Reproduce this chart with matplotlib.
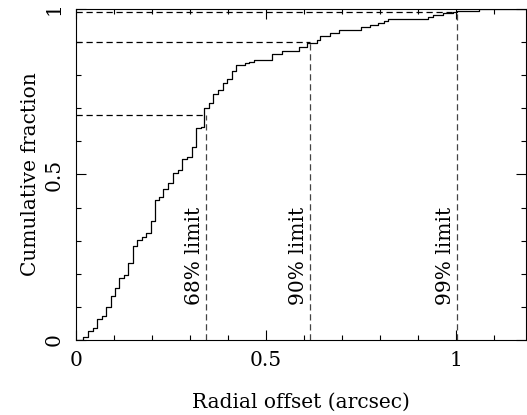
import numpy as np
import matplotlib
matplotlib.use('Agg')
import matplotlib.pyplot as plt
from matplotlib.ticker import MultipleLocator

# cumulative distribution of radial offsets
offset_steps = [0.019, 0.032, 0.044, 0.056, 0.068, 0.079, 0.091, 0.103, 0.114, 0.126,
                0.138, 0.151, 0.161, 0.173, 0.184, 0.197, 0.208, 0.219, 0.230, 0.243,
                0.256, 0.269, 0.280, 0.292, 0.305, 0.316, 0.328, 0.338, 0.351, 0.362,
                0.375, 0.386, 0.398, 0.410, 0.421, 0.445, 0.456, 0.469, 0.515, 0.542,
                0.588, 0.607, 0.634, 0.643, 0.669, 0.693, 0.751, 0.774, 0.796, 0.811,
                0.822, 0.928, 0.941, 0.967, 0.994, 1.003, 1.060]
cum_fraction = [0.010, 0.028, 0.035, 0.063, 0.073, 0.099, 0.133, 0.156, 0.186, 0.196,
                0.232, 0.285, 0.302, 0.312, 0.322, 0.360, 0.423, 0.433, 0.455, 0.473,
                0.504, 0.514, 0.548, 0.554, 0.582, 0.640, 0.644, 0.702, 0.715, 0.743,
                0.755, 0.777, 0.788, 0.814, 0.831, 0.836, 0.841, 0.846, 0.863, 0.873,
                0.885, 0.898, 0.907, 0.918, 0.929, 0.936, 0.947, 0.953, 0.958, 0.964,
                0.969, 0.977, 0.982, 0.987, 0.990, 0.995, 1.000]

limit_levels = [0.68, 0.90, 0.99]
limit_offsets = [0.342, 0.616, 1.003]
limit_labels = ['68% limit', '90% limit', '99% limit']

X_MAX = 1.185
plt.rcParams['font.family'] = 'DejaVu Serif'
plt.rcParams['font.size'] = 14.5

fig = plt.figure(figsize=(5.27, 4.15), dpi=100)
ax = fig.add_axes([76 / 527, 75 / 415, 450 / 527, 331 / 415])

xs = np.r_[0.0, offset_steps, X_MAX]
ys = np.r_[0.0, cum_fraction, cum_fraction[-1]]
ax.step(xs, ys, where='post', color='black', linewidth=0.9)

for lvl, off, lab in zip(limit_levels, limit_offsets, limit_labels):
    ax.plot([0, off], [lvl, lvl], color='black', linewidth=0.9,
            linestyle=(0, (5, 3)))
    ax.plot([off, off], [0, lvl], color='#444444', linewidth=0.9,
            linestyle=(0, (5, 3)))
    ax.annotate(lab, xy=(off, 0.105), xytext=(-1.5, 0),
                textcoords='offset points', rotation=90,
                ha='right', va='bottom')

ax.set_xlim(0, X_MAX)
ax.set_ylim(0, 1)
ax.xaxis.set_major_locator(MultipleLocator(0.5))
ax.xaxis.set_minor_locator(MultipleLocator(0.1))
ax.yaxis.set_major_locator(MultipleLocator(0.5))
ax.yaxis.set_minor_locator(MultipleLocator(0.1))
ax.xaxis.set_major_formatter(lambda v, p: f'{v:g}')
ax.yaxis.set_major_formatter(lambda v, p: f'{v:g}')

ax.tick_params(which='both', direction='in', top=True, right=True, width=0.8)
ax.tick_params(which='major', length=7)
ax.tick_params(which='minor', length=3.5)
ax.tick_params(axis='x', pad=8)
ax.tick_params(axis='y', pad=9, labelrotation=90)
for lab in ax.get_yticklabels():
    lab.set_va('center')

for sp in ax.spines.values():
    sp.set_linewidth(0.8)

ax.set_xlabel('Radial offset (arcsec)', labelpad=16)
ax.set_ylabel('Cumulative fraction', labelpad=3)

fig.savefig('out.png', dpi=100)
